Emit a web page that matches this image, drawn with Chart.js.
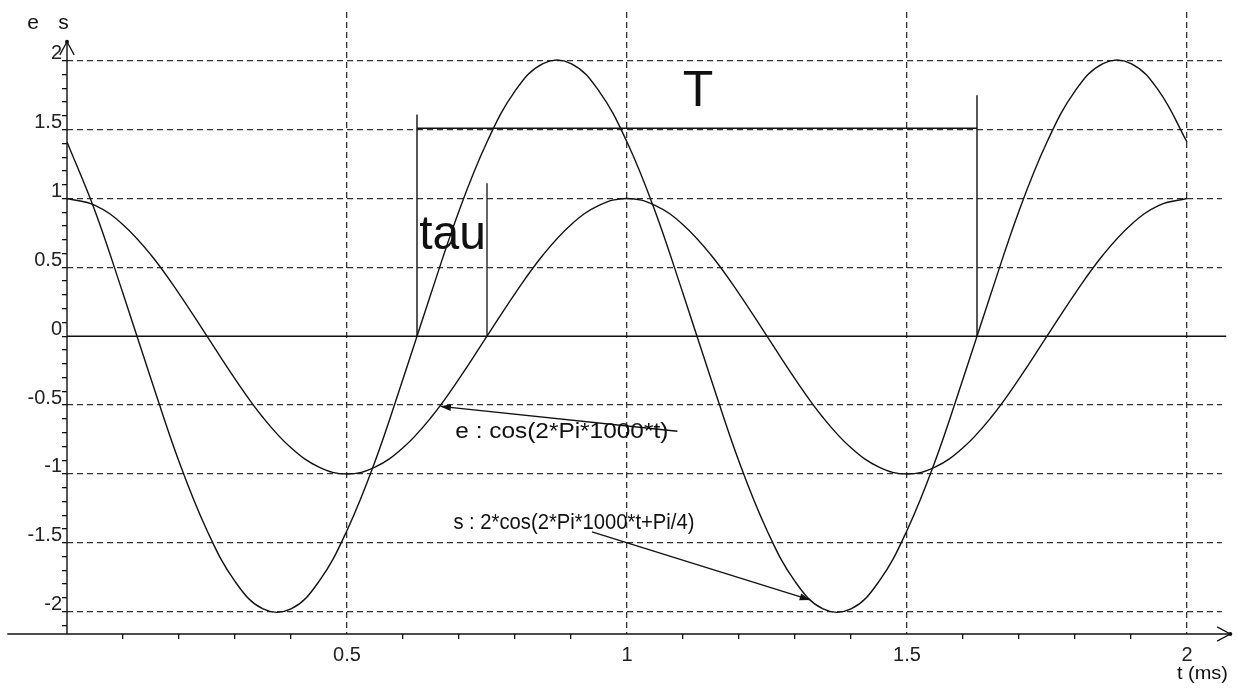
<!DOCTYPE html>
<html>
<head>
<meta charset="utf-8">
<title>e(t) / s(t)</title>
<script src="https://cdn.jsdelivr.net/npm/chart.js@4.4.1/dist/chart.umd.min.js"></script>
<style>
  html, body { margin: 0; padding: 0; background: #fff; }
  canvas { display: block; }
</style>
</head>
<body>
<canvas id="chart" width="1237" height="691"></canvas>
<script>
// e(t) and s(t), t in ms — values every 0.05 ms

// ────────── 1. data ──────────

var tValues = [0, 0.05, 0.1, 0.15, 0.2, 0.25, 0.3, 0.35, 0.4, 0.45, 0.5,
  0.55, 0.6, 0.65, 0.7, 0.75, 0.8, 0.85, 0.9, 0.95, 1,
  1.05, 1.1, 1.15, 1.2, 1.25, 1.3, 1.35, 1.4, 1.45, 1.5,
  1.55, 1.6, 1.65, 1.7, 1.75, 1.8, 1.85, 1.9, 1.95, 2];

var eValues = [1, 0.95, 0.81, 0.59, 0.31, 0, -0.31, -0.59, -0.81, -0.95, -1,
  -0.95, -0.81, -0.59, -0.31, 0, 0.31, 0.59, 0.81, 0.95, 1,
  0.95, 0.81, 0.59, 0.31, 0, -0.31, -0.59, -0.81, -0.95, -1,
  -0.95, -0.81, -0.59, -0.31, 0, 0.31, 0.59, 0.81, 0.95, 1];

var sValues = [1.41, 0.91, 0.31, -0.31, -0.91, -1.41, -1.78, -1.98, -1.98, -1.78, -1.41,
  -0.91, -0.31, 0.31, 0.91, 1.41, 1.78, 1.98, 1.98, 1.78, 1.41,
  0.91, 0.31, -0.31, -0.91, -1.41, -1.78, -1.98, -1.98, -1.78, -1.41,
  -0.91, -0.31, 0.31, 0.91, 1.41, 1.78, 1.98, 1.98, 1.78, 1.41];

var xMajors = [0.5, 1, 1.5, 2];
var xTickLabels = ['0.5', '1', '1.5', '2'];
var yMajors = [2, 1.5, 1, 0.5, 0, -0.5, -1, -1.5, -2];
var yTickLabels = ['2', '1.5', '1', '0.5', '0', '-0.5', '-1', '-1.5', '-2'];

// construction marks: [x1, y1, x2, y2] in data units
var periodSegments = [
  [0.625, 0, 0.625, 1.61],
  [0.625, 1.51, 1.625, 1.51],
  [1.625, 0, 1.625, 1.75]
];
var tauSegment = [0.75, 0, 0.75, 1.11];
var eArrowSegment = [1.09, -0.69, 0.667, -0.51];
var sArrowSegment = [0.9375, -1.42, 1.327, -1.915];

var noteTexts = ['T', 'tau', 'e : cos(2*Pi*1000*t)', 's : 2*cos(2*Pi*1000*t+Pi/4)', 'e', 's', 't (ms)'];

// ────────── 2. look ──────────

var X_MIN = 0, X_MAX = 2.0625;
var Y_MIN = -2.162, Y_MAX = 2.354;
var INK = '#111';
var GRID = '#333';
var TEXT = '#222';
var FONT = "'Liberation Sans', Arial, sans-serif";
var CLEAR = 'rgba(0,0,0,0)';

// where each note goes (same order as noteTexts)
var notePlacement = [
  { x: 1.127, y: 1.669, size: 50, align: 'center', base: 'alphabetic' },
  { x: 0.629, y: 0.632, size: 48, align: 'left', base: 'alphabetic' },
  { x: 0.6934, y: -0.694, size: 22, align: 'left', base: 'middle', width: 213 },
  { x: 0.69, y: -1.354, size: 22, align: 'left', base: 'middle', width: 241 },
  { x: -0.0709, y: 2.232, size: 21, align: 'left', base: 'alphabetic' },
  { x: -0.0155, y: 2.232, size: 21, align: 'left', base: 'alphabetic' },
  { x: 1.982, y: -2.487, size: 19, align: 'left', base: 'alphabetic', width: 51 }
];

function majorIndex(v, majors) {
  for (var i = 0; i < majors.length; i++) {
    if (Math.abs(v - majors[i]) < 1e-6) return i;
  }
  return -1;
}

function seg(s, width, arrowHead) {
  return {
    data: [{ x: s[0], y: s[1] }, { x: s[2], y: s[3] }],
    borderColor: INK,
    borderWidth: width,
    pointRadius: 0,
    tension: 0,
    fill: false,
    clip: false,
    arrowHead: arrowHead || null
  };
}

function curve(values) {
  return {
    data: tValues.map(function (t, i) { return { x: t, y: values[i] }; }),
    borderColor: INK,
    borderWidth: 1.4,
    pointRadius: 0,
    tension: 0.4,
    fill: false
  };
}

// ────────── 3. plugins ──────────

var arrowPlugin = {
  id: 'arrowHeads',
  afterDatasetsDraw: function (chart) {
    var ctx = chart.ctx;
    chart.data.datasets.forEach(function (ds, i) {
      if (!ds.arrowHead) return;
      var pts = chart.getDatasetMeta(i).data;
      var a = pts[pts.length - 2], b = pts[pts.length - 1];
      var ang = Math.atan2(b.y - a.y, b.x - a.x);
      ctx.save();
      ctx.strokeStyle = INK;
      ctx.fillStyle = INK;
      ctx.lineWidth = 1.3;
      if (ds.arrowHead === 'open') {
        var len = 15, spread = 0.5;
        ctx.beginPath();
        ctx.moveTo(b.x - len * Math.cos(ang - spread), b.y - len * Math.sin(ang - spread));
        ctx.lineTo(b.x, b.y);
        ctx.lineTo(b.x - len * Math.cos(ang + spread), b.y - len * Math.sin(ang + spread));
        ctx.stroke();
        ctx.beginPath();
        ctx.arc(b.x, b.y, 2, 0, Math.PI * 2);
        ctx.fill();
      } else {
        var flen = 11, fspread = 0.33;
        ctx.beginPath();
        ctx.moveTo(b.x, b.y);
        ctx.lineTo(b.x - flen * Math.cos(ang - fspread), b.y - flen * Math.sin(ang - fspread));
        ctx.lineTo(b.x - flen * Math.cos(ang + fspread), b.y - flen * Math.sin(ang + fspread));
        ctx.closePath();
        ctx.fill();
      }
      ctx.restore();
    });
  }
};

var notesPlugin = {
  id: 'notes',
  afterDatasetsDraw: function (chart) {
    var ctx = chart.ctx;
    var xs = chart.scales.x, ys = chart.scales.y;
    noteTexts.forEach(function (text, i) {
      var p = notePlacement[i];
      var px = xs.getPixelForValue(p.x);
      var py = ys.getPixelForValue(p.y);
      ctx.save();
      ctx.fillStyle = INK;
      ctx.font = p.size + 'px ' + FONT;
      ctx.textAlign = p.align;
      ctx.textBaseline = p.base;
      ctx.translate(px, py);
      if (p.width) {
        var w = ctx.measureText(text).width;
        ctx.scale(p.width / w, 1);
      }
      ctx.fillText(text, 0, 0);
      ctx.restore();
    });
  }
};

// ────────── 4. chart ──────────

var datasets = [
  curve(eValues),
  curve(sValues),
  seg([0, 0, 2.07, 0], 1.4),                       // zero line
  seg([-0.1066, Y_MIN, 2.0773, Y_MIN], 1.4, 'open'), // t axis
  seg([0, Y_MIN, 0, 2.138], 1.4, 'open'),            // e/s axis
  seg(tauSegment, 1.3),
  seg(eArrowSegment, 1.3, 'filled'),
  seg(sArrowSegment, 1.3, 'filled')
];
periodSegments.forEach(function (s) { datasets.push(seg(s, 1.4)); });

new Chart(document.getElementById('chart'), {
  type: 'line',
  data: { datasets: datasets },
  plugins: [arrowPlugin, notesPlugin],
  options: {
    responsive: false,
    animation: false,
    events: [],
    devicePixelRatio: 1,
    layout: { padding: { top: 8, right: 15, left: 0, bottom: 0 } },
    plugins: { legend: { display: false }, tooltip: { enabled: false } },
    scales: {
      x: {
        type: 'linear',
        min: X_MIN,
        max: X_MAX,
        afterBuildTicks: function (scale) {
          var ticks = [];
          for (var k = 1; k <= 20; k++) ticks.push({ value: k / 10 });
          scale.ticks = ticks;
        },
        afterFit: function (scale) { scale.height = 57; },
        grid: {
          color: function (c) { return c.tick && majorIndex(c.tick.value, xMajors) >= 0 ? GRID : CLEAR; },
          tickColor: function (c) { return c.tick && majorIndex(c.tick.value, xMajors) >= 0 ? CLEAR : INK; },
          lineWidth: 1.3,
          tickWidth: 1.3,
          tickLength: 5
        },
        border: { display: false, dash: [6, 4] },
        ticks: {
          autoSkip: false,
          maxRotation: 0,
          padding: 4,
          color: TEXT,
          font: { family: FONT, size: 20 },
          callback: function (v) {
            var i = majorIndex(v, xMajors);
            return i >= 0 ? xTickLabels[i] : '';
          }
        }
      },
      y: {
        type: 'linear',
        min: Y_MIN,
        max: Y_MAX,
        afterBuildTicks: function (scale) {
          var ticks = [];
          for (var k = -21; k <= 20; k++) ticks.push({ value: k / 10 });
          scale.ticks = ticks;
        },
        afterFit: function (scale) { scale.width = 67; },
        grid: {
          color: function (c) {
            if (!c.tick || c.tick.value === 0) return CLEAR;
            return majorIndex(c.tick.value, yMajors) >= 0 ? GRID : CLEAR;
          },
          tickColor: INK,
          lineWidth: 1.3,
          tickWidth: 1.3,
          tickLength: 5
        },
        border: { display: false, dash: [6, 4] },
        ticks: {
          autoSkip: false,
          padding: 0,
          labelOffset: -7,
          color: TEXT,
          font: { family: FONT, size: 20 },
          callback: function (v) {
            var i = majorIndex(v, yMajors);
            return i >= 0 ? yTickLabels[i] : '';
          }
        }
      }
    }
  }
});
</script>
</body>
</html>
